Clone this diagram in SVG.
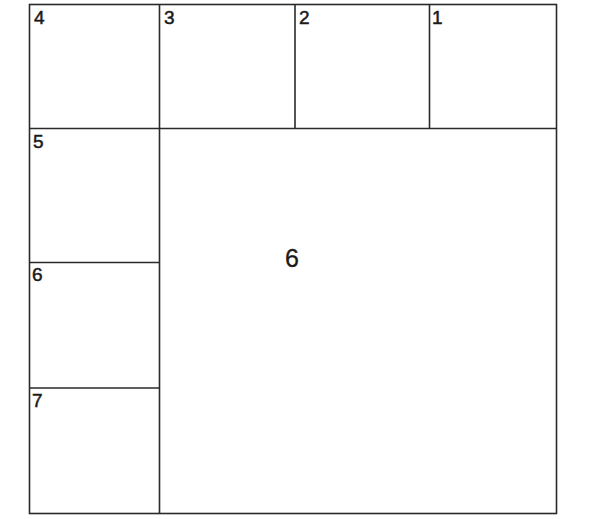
<svg xmlns="http://www.w3.org/2000/svg" width="605" height="519" viewBox="0 0 605 519">
<style>
.ln{stroke:#2a2a2a;stroke-width:1.6;fill:none}
.lb{font-family:"Liberation Sans",Arial,sans-serif;font-size:19px;fill:#1a1a1a;stroke:#1a1a1a;stroke-width:0.5}
.big{font-family:"Liberation Sans",Arial,sans-serif;font-size:25px;fill:#1a1a1a;stroke:#1a1a1a;stroke-width:0.3}
</style>
<rect width="605" height="519" fill="#ffffff"/>
<g id="connectors">
<rect class="ln" x="29.5" y="4.5" width="527" height="509"/>
<line class="ln" x1="159.5" y1="4.5" x2="159.5" y2="513.5"/>
<line class="ln" x1="29.5" y1="128.5" x2="556.5" y2="128.5"/>
<line class="ln" x1="295" y1="4.5" x2="295" y2="128.5"/>
<line class="ln" x1="429.5" y1="4.5" x2="429.5" y2="128.5"/>
<line class="ln" x1="29.5" y1="262.5" x2="159.5" y2="262.5"/>
<line class="ln" x1="29.5" y1="388" x2="159.5" y2="388"/>
</g>
<g id="n4"><text class="lb" x="34" y="24">4</text></g>
<g id="n3"><text class="lb" x="164" y="24">3</text></g>
<g id="n2"><text class="lb" x="299" y="24">2</text></g>
<g id="n1"><text class="lb" x="432" y="24">1</text></g>
<g id="n5"><text class="lb" x="33" y="148">5</text></g>
<g id="n6a"><text class="lb" x="32" y="281">6</text></g>
<g id="n7"><text class="lb" x="32" y="407">7</text></g>
<g id="n6"><text class="big" x="285" y="267">6</text></g>
</svg>
